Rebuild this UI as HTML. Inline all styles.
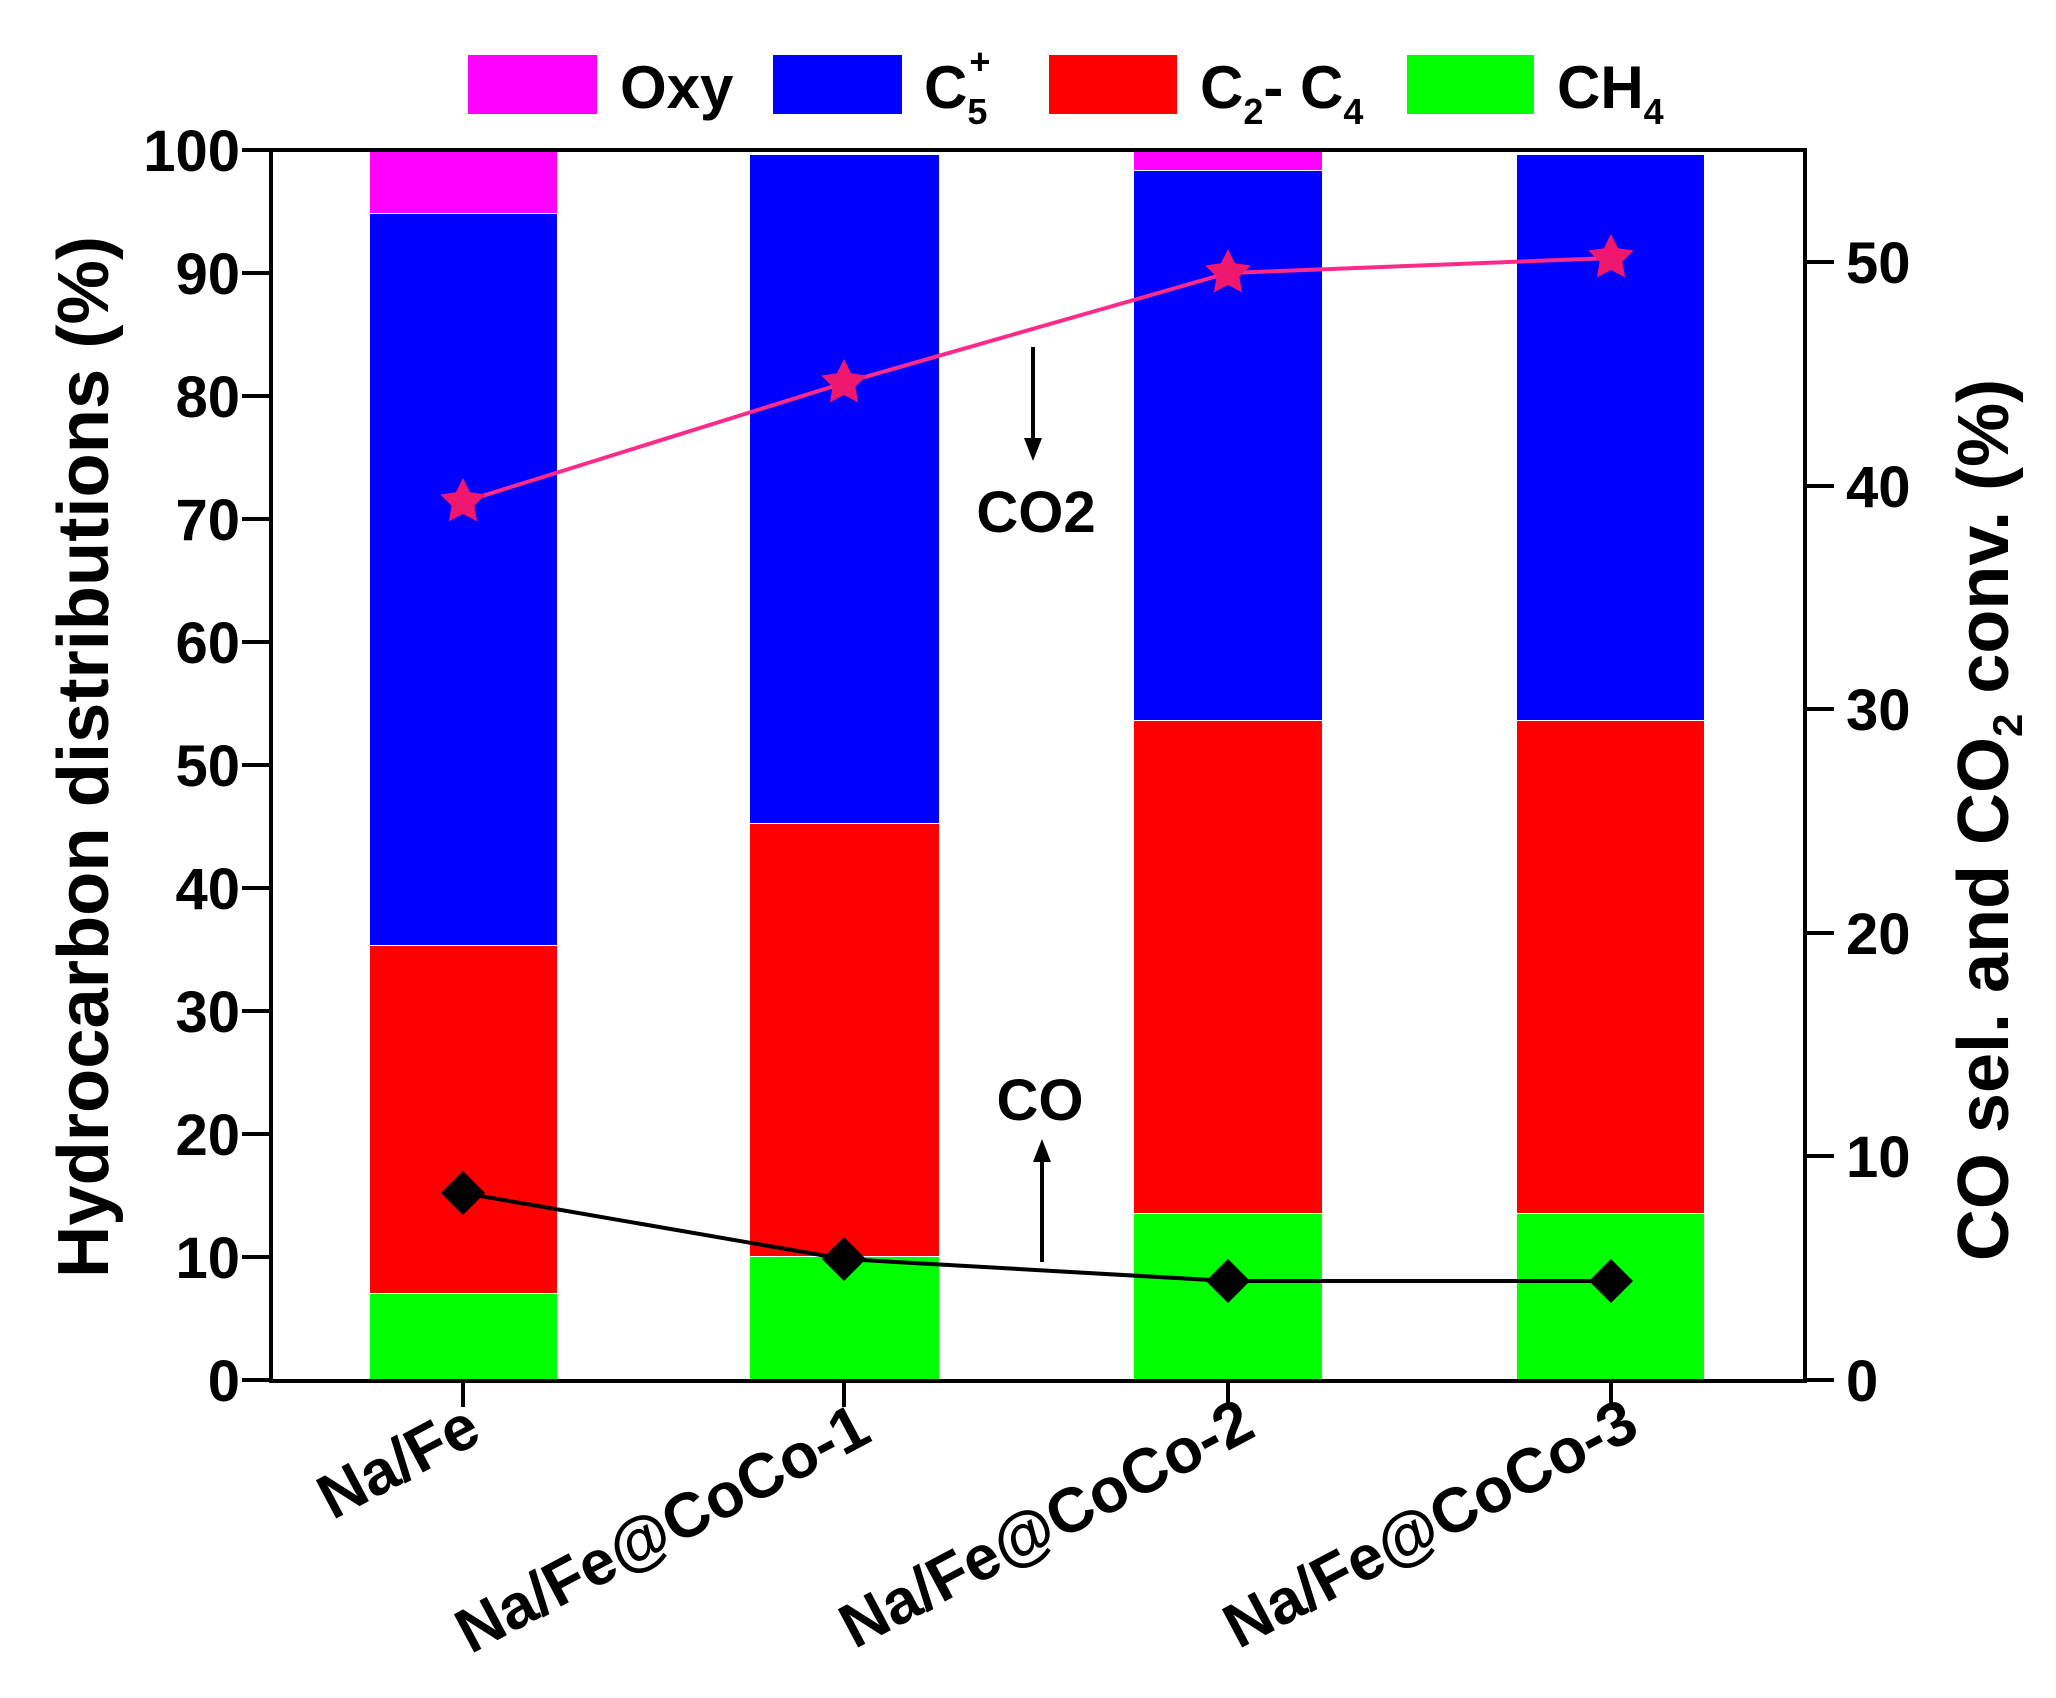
<!DOCTYPE html>
<html><head><meta charset="utf-8"><style>
html,body{margin:0;padding:0;background:#fff;}
svg{display:block;}
text{font-family:"Liberation Sans",Arial,sans-serif;font-weight:bold;fill:#000;}
</style></head><body>
<svg width="2056" height="1698" viewBox="0 0 2056 1698" xmlns="http://www.w3.org/2000/svg">
<defs>
<polygon id="st" points="0,-20 5.9,-8.1 19,-6.2 9.5,3.1 11.8,16.2 0,10 -11.8,16.2 -9.5,3.1 -19,-6.2 -5.9,-8.1"/>
</defs>
<g>
<rect x="370" y="1294" width="187" height="86" fill="#00ff00"/>
<rect x="370" y="946" width="187" height="347" fill="#ff0000"/>
<rect x="370" y="214" width="187" height="731" fill="#0000ff"/>
<rect x="370" y="150" width="187" height="63" fill="#ff00ff"/>

<rect x="750" y="1257" width="189" height="123" fill="#00ff00"/>
<rect x="750" y="824" width="189" height="432" fill="#ff0000"/>
<rect x="750" y="155" width="189" height="668" fill="#0000ff"/>

<rect x="1134" y="1214" width="188" height="166" fill="#00ff00"/>
<rect x="1134" y="721" width="188" height="492" fill="#ff0000"/>
<rect x="1134" y="171" width="188" height="549" fill="#0000ff"/>
<rect x="1134" y="150" width="188" height="20" fill="#ff00ff"/>

<rect x="1517" y="1214" width="187" height="166" fill="#00ff00"/>
<rect x="1517" y="721" width="187" height="492" fill="#ff0000"/>
<rect x="1517" y="155" width="187" height="565" fill="#0000ff"/>
</g>
<g stroke="#000" stroke-width="4" fill="none">
<rect x="271" y="150" width="1534" height="1231"/>
<line x1="242" y1="150" x2="271" y2="150"/><line x1="242" y1="273" x2="271" y2="273"/>
<line x1="242" y1="396" x2="271" y2="396"/><line x1="242" y1="519" x2="271" y2="519"/>
<line x1="242" y1="642" x2="271" y2="642"/><line x1="242" y1="765" x2="271" y2="765"/>
<line x1="242" y1="888" x2="271" y2="888"/><line x1="242" y1="1011" x2="271" y2="1011"/>
<line x1="242" y1="1134" x2="271" y2="1134"/><line x1="242" y1="1257" x2="271" y2="1257"/>
<line x1="242" y1="1380" x2="271" y2="1380"/>
<line x1="1805" y1="1380" x2="1834" y2="1380"/><line x1="1805" y1="1156" x2="1834" y2="1156"/>
<line x1="1805" y1="933" x2="1834" y2="933"/><line x1="1805" y1="709" x2="1834" y2="709"/>
<line x1="1805" y1="486" x2="1834" y2="486"/><line x1="1805" y1="262" x2="1834" y2="262"/>
<line x1="463" y1="1380" x2="463" y2="1407"/><line x1="844" y1="1380" x2="844" y2="1407"/>
<line x1="1228" y1="1380" x2="1228" y2="1407"/><line x1="1611" y1="1380" x2="1611" y2="1407"/>
</g>
<g font-size="58" text-anchor="end">
<text x="240" y="171">100</text><text x="240" y="294">90</text><text x="240" y="417">80</text>
<text x="240" y="540">70</text><text x="240" y="663">60</text><text x="240" y="786">50</text>
<text x="240" y="909">40</text><text x="240" y="1032">30</text><text x="240" y="1155">20</text>
<text x="240" y="1278">10</text><text x="240" y="1401">0</text>
</g>
<g font-size="58" text-anchor="start">
<text x="1846" y="1401">0</text><text x="1846" y="1177">10</text><text x="1846" y="954">20</text>
<text x="1846" y="730">30</text><text x="1846" y="507">40</text><text x="1846" y="283">50</text>
</g>
<text transform="translate(108,757) rotate(-90)" font-size="72" text-anchor="middle" textLength="1042" lengthAdjust="spacingAndGlyphs">Hydrocarbon distributions (%)</text>
<text transform="translate(2008,820) rotate(-90)" font-size="72" text-anchor="middle">CO sel. and CO<tspan font-size="42" dy="14">2</tspan><tspan dy="-14"> conv. (%)</tspan></text>
<g font-size="63" text-anchor="end">
<text transform="translate(484,1440) rotate(-28)">Na/Fe</text>
<text transform="translate(874,1440) rotate(-28)">Na/Fe@CoCo-1</text>
<text transform="translate(1258,1435) rotate(-28)">Na/Fe@CoCo-2</text>
<text transform="translate(1642,1435) rotate(-28)">Na/Fe@CoCo-3</text>
</g>
<polyline points="463,502 844,383 1228,273 1611,258" fill="none" stroke="#ff2a8a" stroke-width="4"/>
<g fill="#f0186e">
<use href="#st" transform="translate(463,502) scale(1.2)"/>
<use href="#st" transform="translate(844,383) scale(1.2)"/>
<use href="#st" transform="translate(1228,273) scale(1.2)"/>
<use href="#st" transform="translate(1611,258) scale(1.2)"/>
</g>
<polyline points="463,1193 844,1259 1228,1281 1611,1281" fill="none" stroke="#000" stroke-width="4"/>
<g fill="#000">
<polygon points="463,1171 485,1193 463,1215 441,1193"/>
<polygon points="844,1237 866,1259 844,1281 822,1259"/>
<polygon points="1228,1259 1250,1281 1228,1303 1206,1281"/>
<polygon points="1611,1259 1633,1281 1611,1303 1589,1281"/>
</g>
<line x1="1033" y1="347" x2="1033" y2="445" stroke="#000" stroke-width="4"/>
<polygon points="1024,438 1042,438 1033,461" fill="#000"/>
<text x="1036" y="532" font-size="58" text-anchor="middle">CO2</text>
<line x1="1042" y1="1262" x2="1042" y2="1155" stroke="#000" stroke-width="4"/>
<polygon points="1033,1162 1051,1162 1042,1139" fill="#000"/>
<text x="1040" y="1120" font-size="58" text-anchor="middle">CO</text>
<rect x="468" y="55" width="129" height="59" fill="#ff00ff"/>
<text x="620" y="108" font-size="60">Oxy</text>
<rect x="773" y="55" width="129" height="59" fill="#0000ff"/>
<text x="924" y="108" font-size="60">C<tspan font-size="36" dy="16">5</tspan><tspan font-size="36" dx="-18" dy="-50">+</tspan></text>
<rect x="1049" y="55" width="128" height="59" fill="#ff0000"/>
<text x="1200" y="108" font-size="60">C<tspan font-size="36" dy="16">2</tspan><tspan dy="-16">- C</tspan><tspan font-size="36" dy="16">4</tspan></text>
<rect x="1407" y="55" width="127" height="59" fill="#00ff00"/>
<text x="1557" y="108" font-size="60">CH<tspan font-size="36" dy="16">4</tspan></text>
</svg>
</body></html>
